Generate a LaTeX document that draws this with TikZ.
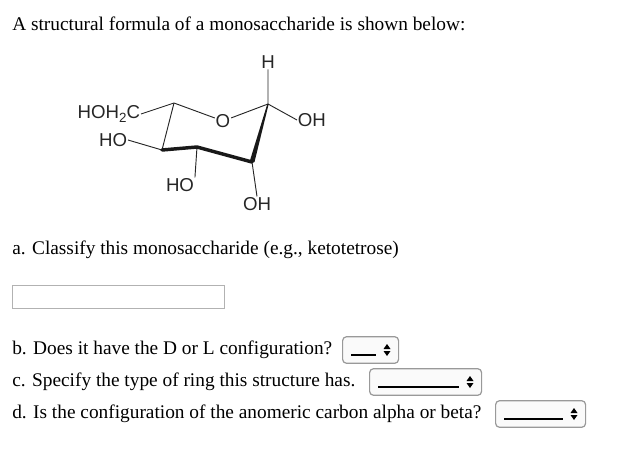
\documentclass[tikz,border=0pt]{standalone}
\usepackage{fontspec}
\usetikzlibrary{calc}
\setmainfont{Liberation Serif}
\newfontfamily\chem{Liberation Sans}
\begin{document}
\begin{tikzpicture}[x=0.75pt,y=-0.75pt,
  txt/.style={anchor=west,inner sep=0pt,font=\fontsize{14.5pt}{16pt}\selectfont},
  lab/.style={inner sep=0.5pt,font=\chem\fontsize{14pt}{16pt}\selectfont,text=black!85},
  bond/.style={line width=0.7pt,black!85},
  bold/.style={line width=2.6pt,black!90,line cap=round},
  sel/.style={draw=black!40,line width=0.9pt,rounded corners=3pt,fill=black!2}]
\useasboundingbox (0,0) rectangle (620,450);
\node[txt] (t1) at (12,24) {A structural formula of a monosaccharide is shown below:};
% ring
\coordinate (c5) at (174,103);
\node[lab] (o) at (223,121) {O};
\coordinate (c1) at (268,104);
\coordinate (c2) at (252,162);
\coordinate (c3) at (197,147);
\coordinate (c4) at (162,150);
\node[lab] (h) at (268,62) {H};
\node[lab,anchor=west] (oh1) at (297,120) {OH};
\node[lab,anchor=east] (ch2) at (141,114) {HOH\raisebox{-0.35ex}{\fontsize{10pt}{10pt}\selectfont 2}C};
\node[lab,anchor=east] (ho4) at (128,140) {HO};
\node[lab] (ho3) at (180,185) {HO};
\node[lab] (oh2) at (257,204) {OH};
\draw[bond] (ch2.east) -- (c5) -- (o) -- (c1) -- (h);
\draw[bond] (c1) -- (oh1.west);
\draw[bond] (c5) -- (c4) -- (ho4.east);
\draw[bond] (c3) -- (ho3.north east);
\draw[bond] (c2) -- (oh2.north);
\draw[bold] (c4) -- (c3) -- (c2);
\fill[black!90] ($(c1)+(-0.7,0)$) -- ($(c2)+(-2.5,0)$) -- ($(c2)+(2.5,0)$) -- ($(c1)+(0.7,0)$) -- cycle;
\node[txt] (ta) at (12,250) {a. Classify this monosaccharide (e.g., ketotetrose)};
\node[draw=black!30,fill=white,minimum width=159pt,minimum height=17pt,inner sep=0pt,anchor=north west] (box) at (12,285) {};
\node[txt] (tb) at (12,350) {b. Does it have the D or L configuration?};
\node[txt] (tc) at (12,382) {c. Specify the type of ring this structure has.};
\node[txt] (td) at (12,414) {d. Is the configuration of the anomeric carbon alpha or beta?};
\foreach \n/\a/\b/\y in {sb/342/398/350, sc/369/481/382, sd/495/585/414}{
  \pgfmathsetmacro\selw{(\b-\a)*0.75}
  \node[sel,minimum width=\selw pt,minimum height=20pt,inner sep=0pt,anchor=west] (\n) at (\a,\y) {};
  \draw[line width=0.8pt] (\a+9,\y+5) -- (\b-22,\y+5);
  \fill (\b-11,\y-6) -- (\b-14.5,\y-1) -- (\b-7.5,\y-1) -- cycle;
  \fill (\b-11,\y+6) -- (\b-14.5,\y+1) -- (\b-7.5,\y+1) -- cycle;
}
\end{tikzpicture}
\end{document}
